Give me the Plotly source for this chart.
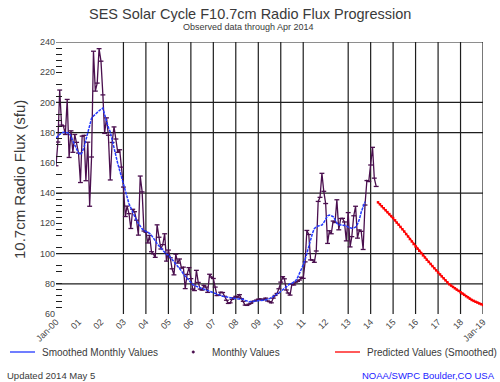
import pandas as pd
import plotly.graph_objects as go

# ---------------- data ----------------
OBS_START = "2000-01-01"
MONTHLY_OBSERVED = [
    158.1, 173.8, 208.2, 185.0, 184.4, 178.8, 202.0, 163.6, 181.2, 167.0, 178.8, 173.6,   # 2000
    166.5, 147.0, 177.7, 178.2, 148.2, 173.7, 131.3, 163.9, 233.9, 207.5, 212.8, 235.6,   # 2001
    227.3, 205.0, 179.5, 189.8, 178.3, 148.7, 173.5, 183.8, 175.8, 167.0, 168.7, 157.2,   # 2002
    144.0, 124.5, 131.4, 126.4, 116.6, 129.3, 127.7, 122.1, 112.2, 151.3, 140.8, 114.9,   # 2003
    114.1, 107.0, 112.0, 101.2, 99.8, 97.5, 119.0, 110.8, 103.0, 105.9, 113.1, 95.0,      # 2004
    102.3, 97.2, 89.9, 85.9, 99.6, 93.7, 96.4, 90.4, 91.0, 76.8, 86.2, 90.7,              # 2005
    83.4, 76.5, 75.5, 88.9, 80.9, 76.5, 75.8, 79.0, 77.8, 74.3, 86.3, 84.4,               # 2006
    83.5, 77.8, 72.2, 72.4, 74.4, 74.2, 71.7, 69.1, 67.0, 67.4, 69.7, 70.7,               # 2007
    71.7, 71.1, 72.8, 70.2, 68.4, 65.9, 65.7, 66.5, 67.1, 68.3, 68.6, 69.2,               # 2008
    69.8, 70.0, 69.2, 69.7, 70.5, 68.6, 68.2, 67.4, 70.5, 72.3, 73.6, 76.7,               # 2009
    81.1, 84.7, 83.3, 75.9, 73.9, 72.5, 79.8, 79.2, 81.1, 81.6, 82.5, 84.3,               # 2010
    83.6, 94.5, 115.3, 112.6, 95.8, 95.8, 94.2, 101.7, 134.5, 137.2, 153.1, 141.2,        # 2011
    133.1, 106.7, 115.1, 113.1, 121.5, 120.5, 135.6, 115.7, 123.2, 123.3, 120.9, 108.4,   # 2012
    127.1, 104.4, 111.2, 125.0, 131.3, 110.2, 115.6, 114.7, 102.7, 132.1, 148.3, 147.7,   # 2013
    158.6, 170.3, 149.9, 144.4,                                                           # 2014
]

SMOOTHED_START = "2000-01-01"
SMOOTHED_MONTHLY = [
    176.5, 177.7, 179.0, 180.0, 180.2, 180.2, 180.0, 179.5, 177.5, 174.5, 171.5, 168.5,   # 2000
    166.5, 165.4, 167.0, 170.5, 175.0, 181.0, 185.5, 189.5, 191.0, 192.3, 193.5, 194.5,   # 2001
    195.5, 196.3, 192.0, 187.5, 183.5, 180.5, 175.0, 170.0, 164.0, 159.5, 155.0, 151.0,   # 2002
    146.0, 142.0, 137.5, 133.0, 130.0, 127.0, 124.3, 122.0, 120.0, 118.0, 116.3, 115.3,   # 2003
    114.5, 114.0, 113.4, 112.0, 110.5, 108.5, 106.5, 105.0, 103.5, 102.0, 100.8, 99.5,    # 2004
    99.0, 97.5, 96.0, 95.0, 93.0, 91.5, 90.0, 88.5, 86.5, 85.0, 83.5, 82.0,               # 2005
    80.5, 79.5, 78.8, 78.3, 77.8, 77.3, 77.0, 76.5, 76.0, 75.5, 74.8, 74.3,               # 2006
    74.0, 73.8, 73.3, 72.8, 72.3, 71.8, 71.5, 71.2, 71.0, 70.8, 70.6, 70.4,               # 2007
    70.2, 70.0, 69.9, 69.8, 69.7, 69.0, 68.3, 68.1, 68.2, 68.4, 68.6, 68.8,               # 2008
    68.9, 69.0, 69.1, 69.2, 69.3, 69.6, 70.2, 70.8, 71.5, 72.2, 73.0, 74.0,               # 2009
    75.0, 76.0, 77.0, 78.1, 79.2, 80.0, 80.3, 81.0, 82.0, 84.0, 86.5, 89.5,               # 2010
    92.5, 96.0, 100.2, 105.0, 109.5, 113.5, 116.5, 117.8, 118.2, 118.5, 118.9, 120.5,     # 2011
    122.5, 125.0, 125.5, 125.0, 124.4, 122.5, 120.0, 119.0, 118.9, 118.9, 118.9, 118.5,   # 2012
    117.5, 116.8, 116.7, 117.0, 117.5, 119.5, 122.5, 127.5, 131.0, 134.3,                 # 2013
]

PREDICTED_START = "2014-05-01"
PREDICTED_SMOOTHED = [
    133.9, 132.6, 131.3, 130.0, 128.7, 127.4, 126.1, 124.8,                               # 2014
    123.5, 122.0, 120.5, 119.1, 117.6, 116.1, 114.6, 112.9, 111.3, 109.6, 108.0, 106.3,   # 2015
    104.7, 103.2, 101.8, 100.3, 98.8, 97.4, 95.9, 94.5, 93.1, 91.7, 90.3, 88.9,           # 2016
    87.5, 86.2, 84.9, 83.6, 82.3, 81.0, 79.7, 78.8, 77.9, 77.0, 76.1, 75.3,               # 2017
    74.4, 73.5, 72.7, 71.8, 71.0, 70.1, 69.3, 68.7, 68.1, 67.6, 67.0, 66.5,               # 2018
    66.0,                                                                                 # 2019
]

X_TICK_DATES = [f"{y}-01-01" for y in range(2000, 2020)]
X_TICK_LABELS = ["Jan-00", "01", "02", "03", "04", "05", "06", "07", "08", "09",
                 "10", "11", "12", "13", "14", "15", "16", "17", "18", "Jan-19"]
X_GRID_DATES = ["2003-01-01", "2004-01-01", "2005-01-01", "2006-01-01", "2007-01-01",
                "2008-01-01", "2009-01-01", "2010-01-01", "2011-01-01", "2013-01-01",
                "2014-01-01", "2015-01-01", "2016-01-01", "2017-01-01", "2018-01-01",
                "2019-01-01"]

Y_TICKS = [60, 80, 100, 120, 140, 160, 180, 200, 220, 240]
Y_GRID = [80, 100, 140, 180, 200, 240]
Y_MINOR = [236, 232, 228, 224, 212, 204, 192, 188, 184, 176, 172, 164, 152, 144,
           136, 132, 128, 124, 116, 112, 104, 92, 88, 76, 72, 68, 64]
Y_RANGE = [60, 240]
X_RANGE = ["2000-01-01", "2019-01-01"]

# ---------------- style ----------------
PURPLE = "#4a0f4e"
BLUE = "#2238ff"
RED = "#ff0000"
GRID = "#1e1e1e"
TEXT = "#3a3a3a"
FONT = "Liberation Sans"

W, H = 500, 382
L, R, T, B = 56, 17, 42, 68
PW, PH = W - L - R, H - T - B


def px(xp):
    return (xp - L) / PW


def py(yp):
    return (H - B - yp) / PH


obs_dates = pd.date_range(OBS_START, periods=len(MONTHLY_OBSERVED), freq="MS")
sm_dates = pd.date_range(SMOOTHED_START, periods=len(SMOOTHED_MONTHLY), freq="MS")
pred_dates = pd.date_range(PREDICTED_START, periods=len(PREDICTED_SMOOTHED), freq="MS")

fig = go.Figure()
fig.add_trace(go.Scatter(
    x=obs_dates, y=MONTHLY_OBSERVED, mode="lines+markers", name="Monthly Values",
    line=dict(color=PURPLE, width=1.3),
    marker=dict(symbol="line-ew", size=3.5, line=dict(color=PURPLE, width=1.3)),
))
fig.add_trace(go.Scatter(
    x=sm_dates, y=SMOOTHED_MONTHLY, mode="lines", name="Smoothed Monthly Values",
    line=dict(color=BLUE, width=1.5, dash="3px,1px"),
))
fig.add_trace(go.Scatter(
    x=pred_dates, y=PREDICTED_SMOOTHED, mode="lines+markers", name="Predicted Values (Smoothed)",
    line=dict(color=RED, width=1.2),
    marker=dict(symbol="square", size=2.5, color=RED),
))

shapes = []
for d in X_GRID_DATES:
    shapes.append(dict(type="line", xref="x", yref="paper", x0=d, x1=d, y0=0, y1=1,
                       layer="below", line=dict(color=GRID, width=1.2)))
for v in Y_GRID:
    shapes.append(dict(type="line", xref="paper", yref="y", x0=0, x1=1, y0=v, y1=v,
                       layer="below", line=dict(color=GRID, width=1.2)))
# legend keys
shapes.append(dict(type="line", xref="paper", yref="paper", x0=px(10), x1=px(35),
                   y0=py(352), y1=py(352), line=dict(color=BLUE, width=1.3)))
shapes.append(dict(type="circle", xref="paper", yref="paper", x0=px(192), x1=px(194.5),
                   y0=py(353.2), y1=py(350.8), fillcolor=PURPLE, line=dict(color=PURPLE, width=0.5)))
shapes.append(dict(type="line", xref="paper", yref="paper", x0=px(335), x1=px(360),
                   y0=py(352), y1=py(352), line=dict(color=RED, width=1.3)))

ann = []


def text(t, xp, yp, size, xanchor="center", color=TEXT, angle=0):
    ann.append(dict(text=t, xref="paper", yref="paper", x=px(xp), y=py(yp), showarrow=False,
                    xanchor=xanchor, yanchor="middle", textangle=angle,
                    font=dict(family=FONT, size=size, color=color)))


text("SES Solar Cycle F10.7cm Radio Flux Progression", 250, 14, 14.5)
text("Observed data through Apr 2014", 248, 27, 9)
text("10.7cm Radio Flux (sfu)", 19, 180, 15, angle=-90)
text("Smoothed Monthly Values", 40, 352, 10, xanchor="left")
text("Monthly Values", 210, 352, 10, xanchor="left")
text("Predicted Values (Smoothed)", 365, 352, 10, xanchor="left")
text("Updated 2014 May 5", 5, 375, 9.5, xanchor="left")
text("NOAA/SWPC Boulder,CO USA", 497, 375, 9.5, xanchor="right", color="#1a1aff")

fig.update_layout(
    width=W, height=H, margin=dict(l=L, r=R, t=T, b=B, pad=0),
    paper_bgcolor="white", plot_bgcolor="white", showlegend=False,
    font=dict(family=FONT, color=TEXT),
    shapes=shapes, annotations=ann,
    xaxis=dict(type="date", range=X_RANGE, tickmode="array", tickvals=X_TICK_DATES,
               ticktext=X_TICK_LABELS, tickangle=-45, ticks="", showgrid=False,
               zeroline=False, showline=False, tickfont=dict(size=9, color="#444")),
    yaxis=dict(range=Y_RANGE, tickmode="array", tickvals=Y_TICKS, ticks="inside",
               ticklen=6, tickcolor=GRID, tickwidth=1, showgrid=False, zeroline=False,
               showline=False, tickfont=dict(size=9, color="#444"),
               minor=dict(tickmode="array", tickvals=Y_MINOR, ticks="inside", ticklen=6,
                          tickcolor=GRID, tickwidth=1, showgrid=False)),
    yaxis2=dict(range=Y_RANGE, overlaying="y", side="right", tickmode="array",
                tickvals=Y_MINOR, ticks="inside", ticklen=6, tickcolor=GRID, tickwidth=1,
                showticklabels=False, showgrid=False, zeroline=False, showline=False),
)

fig.write_html("out.html", config={"displayModeBar": False},
               post_script="document.body.style.margin='0';")
